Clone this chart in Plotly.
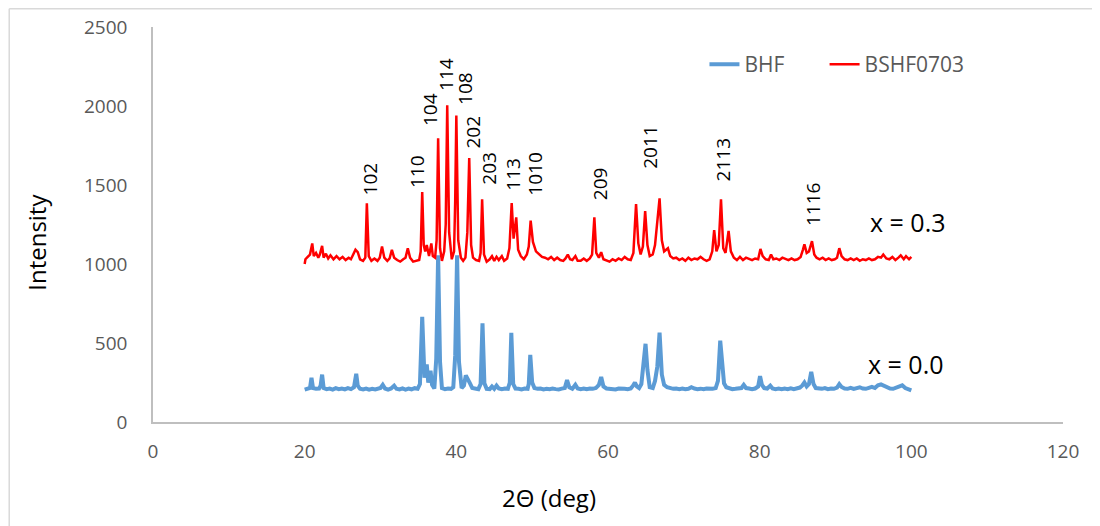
import plotly.graph_objects as go

# BHF (x = 0.0) pattern
bhf_2theta = [
    20.0, 20.4, 20.7, 20.9, 21.1, 21.5, 21.9, 22.1, 22.3, 22.5, 22.9, 23.3, 23.7, 24.1, 24.5, 24.9,
    25.3, 25.7, 26.1, 26.5, 26.8, 27.0, 27.3, 27.7, 28.1, 28.5, 28.9, 29.3, 29.7, 30.0, 30.3, 30.6,
    31.0, 31.4, 31.8, 32.1, 32.5, 32.9, 33.3, 33.7, 34.1, 34.5, 34.9, 35.2, 35.5, 35.8, 36.1, 36.3,
    36.6, 36.8, 37.1, 37.35, 37.6, 37.85, 38.1, 38.5, 38.9, 39.3, 39.6, 39.85, 40.1, 40.35, 40.7, 41.0,
    41.25, 41.5, 41.8, 42.1, 42.5, 42.9, 43.2, 43.45, 43.7, 44.0, 44.4, 44.7, 45.0, 45.3, 45.6, 46.0,
    46.4, 46.8, 47.05, 47.25, 47.5, 47.8, 48.2, 48.6, 49.0, 49.4, 49.55, 49.75, 50.0, 50.3, 50.7, 51.1,
    51.5, 51.9, 52.3, 52.7, 53.1, 53.5, 53.9, 54.3, 54.6, 54.9, 55.3, 55.7, 56.0, 56.4, 56.8, 57.2,
    57.6, 58.0, 58.4, 58.8, 59.1, 59.4, 59.8, 60.2, 60.6, 61.0, 61.4, 61.8, 62.2, 62.6, 63.0, 63.3,
    63.55, 63.8, 64.1, 64.4, 64.7, 64.95, 65.2, 65.5, 65.9, 66.2, 66.5, 66.8, 67.1, 67.4, 67.8, 68.2,
    68.6, 69.0, 69.4, 69.8, 70.2, 70.6, 71.0, 71.4, 71.8, 72.2, 72.6, 73.0, 73.4, 73.8, 74.2, 74.5,
    74.8, 75.05, 75.3, 75.6, 76.0, 76.4, 76.8, 77.2, 77.6, 77.9, 78.2, 78.6, 79.0, 79.4, 79.8, 80.05,
    80.3, 80.6, 81.0, 81.4, 81.7, 82.1, 82.5, 82.9, 83.3, 83.7, 84.1, 84.5, 84.9, 85.3, 85.6, 85.9,
    86.2, 86.5, 86.8, 87.1, 87.4, 87.8, 88.2, 88.6, 89.0, 89.4, 89.8, 90.2, 90.5, 90.8, 91.2, 91.6,
    92.0, 92.4, 92.8, 93.2, 93.6, 94.0, 94.4, 94.8, 95.2, 95.6, 96.0, 96.4, 96.8, 97.2, 97.6, 98.0,
    98.4, 98.8, 99.2, 99.6, 100.0,
]
bhf_intensity = [
    205, 210, 215, 280, 215, 210, 212, 230, 300, 215, 208, 212, 205, 214, 208, 212,
    206, 214, 208, 220, 305, 230, 210, 206, 212, 205, 210, 206, 214, 215, 235, 212,
    205, 212, 230, 210, 206, 213, 205, 212, 207, 214, 210, 240, 665, 280, 365, 250,
    325, 235, 212, 400, 1055, 380, 215, 208, 212, 210, 220, 420, 1055, 380, 215, 230,
    295, 265, 245, 215, 210, 208, 240, 625, 245, 210, 208, 225, 210, 230, 212, 208,
    212, 210, 250, 565, 240, 212, 210, 206, 212, 210, 240, 425, 250, 215, 210, 212,
    206, 210, 207, 212, 208, 206, 211, 215, 265, 220, 210, 235, 212, 208, 212, 207,
    212, 210, 215, 235, 285, 225, 212, 208, 210, 206, 212, 208, 210, 207, 212, 230,
    250, 225, 215, 240, 390, 495, 330, 220, 215, 260, 350, 565, 300, 235, 220, 212,
    210, 212, 208, 212, 207, 210, 220, 212, 208, 211, 207, 212, 208, 210, 215, 260,
    515, 400, 245, 220, 212, 208, 210, 212, 215, 235, 215, 212, 208, 212, 225, 290,
    235, 215, 212, 230, 212, 208, 212, 207, 212, 208, 213, 208, 212, 218, 230, 250,
    225, 240, 318, 240, 215, 212, 210, 215, 208, 212, 210, 218, 240, 222, 212, 210,
    216, 210, 212, 220, 212, 210, 216, 222, 215, 232, 238, 228, 215, 212, 210, 218,
    225, 232, 215, 208, 200,
]

# BSHF0703 (x = 0.3) pattern
bshf_2theta = [
    20.0, 20.1, 20.4, 20.7, 21.0, 21.2, 21.5, 21.8, 22.0, 22.3, 22.5, 22.8, 23.1, 23.4, 23.8, 24.2,
    24.6, 25.0, 25.4, 25.8, 26.1, 26.4, 26.7, 27.0, 27.3, 27.7, 28.0, 28.2, 28.45, 28.8, 29.2, 29.6,
    29.9, 30.2, 30.5, 30.9, 31.2, 31.5, 31.8, 32.2, 32.6, 33.0, 33.3, 33.6, 33.9, 34.3, 34.7, 35.1,
    35.3, 35.5, 35.7, 35.9, 36.1, 36.4, 36.7, 36.9, 37.2, 37.4, 37.6, 37.85, 38.1, 38.4, 38.6, 38.8,
    39.05, 39.4, 39.7, 39.85, 40.0, 40.25, 40.6, 40.9, 41.2, 41.45, 41.7, 41.95, 42.2, 42.6, 43.0, 43.2,
    43.4, 43.65, 44.0, 44.4, 44.7, 45.0, 45.3, 45.6, 46.0, 46.3, 46.7, 47.0, 47.3, 47.55, 47.9, 48.15,
    48.5, 48.9, 49.3, 49.55, 49.8, 50.1, 50.5, 50.9, 51.3, 51.7, 52.1, 52.5, 52.9, 53.3, 53.7, 54.1,
    54.4, 54.7, 55.0, 55.3, 55.7, 56.0, 56.4, 56.8, 57.2, 57.6, 57.9, 58.2, 58.45, 58.8, 59.1, 59.4,
    59.8, 60.2, 60.6, 61.0, 61.4, 61.8, 62.2, 62.6, 63.0, 63.35, 63.7, 64.0, 64.3, 64.6, 64.9, 65.2,
    65.5, 65.9, 66.2, 66.5, 66.8, 67.1, 67.4, 67.9, 68.2, 68.6, 69.0, 69.4, 69.8, 70.2, 70.6, 71.0,
    71.4, 71.8, 72.2, 72.6, 73.0, 73.4, 73.75, 74.0, 74.3, 74.6, 74.9, 75.2, 75.5, 75.9, 76.2, 76.6,
    77.0, 77.4, 77.8, 78.2, 78.6, 79.0, 79.4, 79.8, 80.1, 80.4, 80.8, 81.2, 81.5, 81.8, 82.2, 82.6,
    83.0, 83.4, 83.8, 84.2, 84.6, 85.0, 85.4, 85.7, 85.9, 86.2, 86.5, 86.9, 87.2, 87.5, 87.9, 88.3,
    88.7, 89.1, 89.5, 89.9, 90.2, 90.5, 90.8, 91.2, 91.6, 92.0, 92.4, 92.8, 93.2, 93.6, 94.0, 94.4,
    94.8, 95.2, 95.6, 96.0, 96.3, 96.7, 97.1, 97.5, 97.9, 98.3, 98.6, 99.0, 99.3, 99.7, 100.0,
]
bshf_intensity = [
    1000, 1030, 1045, 1060, 1130, 1050, 1070, 1040, 1060, 1115, 1040, 1065, 1035, 1055, 1030, 1050,
    1030, 1045, 1025, 1040, 1030, 1060, 1090, 1075, 1030, 1020, 1040, 1385, 1050, 1020, 1035, 1020,
    1040, 1110, 1040, 1020, 1035, 1090, 1040, 1025, 1015, 1030, 1040, 1100, 1040, 1015, 1020, 1025,
    1080, 1455, 1120, 1080, 1120, 1050, 1130, 1050, 1040, 1150, 1795, 1100, 1020, 1080, 1250, 2005,
    1200, 1030, 1080, 1400, 1940, 1150, 1040, 1020, 1040, 1200, 1670, 1120, 1040, 1025, 1020, 1070,
    1410, 1060, 1015, 1030, 1050, 1020, 1045, 1025, 1050, 1020, 1035, 1100, 1385, 1160, 1295, 1090,
    1050, 1030, 1060, 1110, 1275, 1140, 1080, 1060, 1045, 1040, 1030, 1045, 1025, 1040, 1025, 1020,
    1035, 1060, 1030, 1025, 1050, 1020, 1020, 1035, 1020, 1035, 1060, 1295, 1070, 1040, 1075, 1030,
    1020, 1015, 1030, 1020, 1035, 1025, 1045, 1030, 1025, 1070, 1380, 1130, 1060, 1110, 1335, 1120,
    1050, 1060, 1120, 1250, 1415, 1150, 1080, 1100, 1050, 1035, 1040, 1025, 1035, 1020, 1040, 1025,
    1035, 1030, 1045, 1030, 1020, 1030, 1080, 1215, 1080, 1120, 1410, 1100, 1070, 1210, 1080, 1040,
    1025, 1045, 1025, 1040, 1030, 1025, 1035, 1030, 1095, 1050, 1030, 1025, 1060, 1030, 1035, 1025,
    1040, 1030, 1025, 1035, 1025, 1030, 1045, 1090, 1125, 1070, 1080, 1145, 1060, 1040, 1030, 1040,
    1025, 1035, 1025, 1030, 1040, 1100, 1050, 1030, 1025, 1035, 1025, 1035, 1020, 1030, 1025, 1035,
    1025, 1030, 1045, 1040, 1060, 1035, 1030, 1045, 1025, 1040, 1055, 1030, 1050, 1030, 1045,
]

# Miller index labels over the x = 0.3 peaks
hkl_labels = ["102", "110", "104", "114", "108", "202", "203", "113", "1010", "209", "2011", "2113", "1116"]
hkl_2theta = [28.6, 34.75, 36.6, 38.55, 41.2, 42.2, 44.2, 47.35, 50.4, 58.9, 65.6, 75.1, 87.1]
hkl_height = [1424, 1468, 1861, 2082, 1994, 1715, 1487, 1449, 1418, 1392, 1590, 1510, 1228]

# composition labels next to each pattern
comp_labels = ["x = 0.3", "x = 0.0"]
comp_2theta = [99.5, 99.3]
comp_height = [1265, 365]

font_family = "Open Sans, Lato, DejaVu Sans, sans-serif"
axis_grey = "#595959"

fig = go.Figure()

fig.add_scatter(
    name="BHF", x=bhf_2theta, y=bhf_intensity, mode="lines",
    line=dict(color="#5b9bd5", width=4), legend="legend"
)
fig.add_scatter(
    name="BSHF0703", x=bshf_2theta, y=bshf_intensity, mode="lines",
    line=dict(color="#ff0000", width=2.5), legend="legend2"
)

annotations = []
for label, x, y in zip(hkl_labels, hkl_2theta, hkl_height):
    annotations.append(dict(
        x=x, y=y, xref="x", yref="y", text=label, showarrow=False, textangle=-90,
        xanchor="center", yanchor="bottom", font=dict(size=19, color="black")
    ))
for label, x, y in zip(comp_labels, comp_2theta, comp_height):
    annotations.append(dict(
        x=x, y=y, xref="x", yref="y", text=label, showarrow=False,
        xanchor="center", yanchor="middle", font=dict(size=25, color="black")
    ))

# axis titles placed by hand, like the Excel layout
annotations.append(dict(
    x=-0.128, y=0.455, xref="paper", yref="paper", text="Intensity", showarrow=False,
    textangle=-90, xanchor="center", yanchor="middle", font=dict(size=24, color="black")
))
annotations.append(dict(
    x=0.435, y=-0.19, xref="paper", yref="paper", text="2\u0398 (deg)", showarrow=False,
    xanchor="center", yanchor="middle", font=dict(size=24, color="black")
))

legend_style = dict(
    orientation="h", y=0.905, xanchor="left", yanchor="middle",
    font=dict(size=21, color=axis_grey), bgcolor="rgba(0,0,0,0)"
)

# the page body adds an 8 px offset, so the figure is 8 px smaller than the window
fig.update_layout(
    width=1092,
    height=518,
    margin=dict(l=145, r=37, t=19, b=104),
    paper_bgcolor="white",
    plot_bgcolor="white",
    font=dict(family=font_family, color=axis_grey),
    showlegend=True,
    legend=dict(x=0.606, **legend_style),
    legend2=dict(x=0.738, **legend_style),
    annotations=annotations,
    shapes=[
        # outer chart frame (left and top edges are visible)
        dict(type="line", xref="paper", yref="paper", x0=-0.158, x1=-0.158, y0=1.046, y1=-0.4,
             line=dict(color="#d9d9d9", width=1.5)),
        dict(type="line", xref="paper", yref="paper", x0=-0.158, x1=1.1, y0=1.046, y1=1.046,
             line=dict(color="#d9d9d9", width=1.5)),
    ],
)

fig.update_xaxes(
    range=[0, 120], dtick=20, showgrid=False, zeroline=False, automargin=False,
    showline=True, linecolor="#bfbfbf", linewidth=1.5, ticks="",
    ticklabelstandoff=11, tickfont=dict(size=19, color=axis_grey)
)
fig.update_yaxes(
    range=[0, 2500], dtick=500, showgrid=False, zeroline=False, automargin=False,
    showline=True, linecolor="#bfbfbf", linewidth=1.5, ticks="",
    ticklabelstandoff=20, tickfont=dict(size=19, color=axis_grey)
)

fig.write_html("out.html")
